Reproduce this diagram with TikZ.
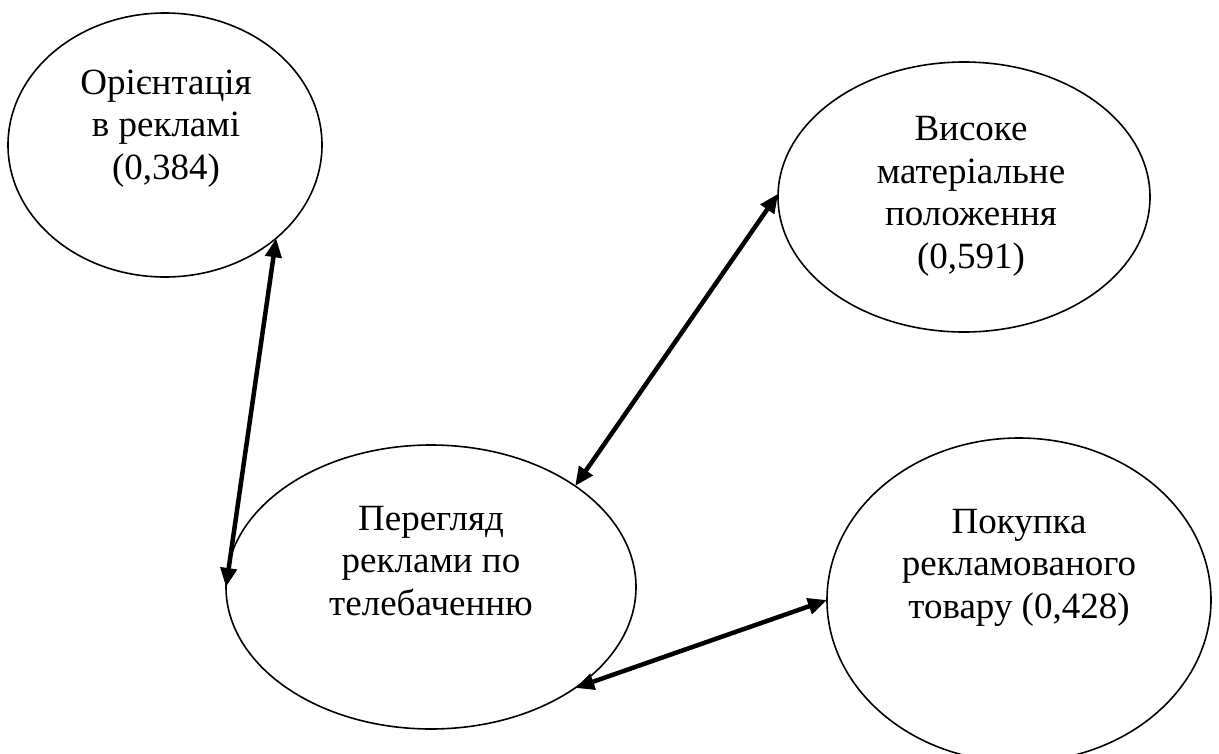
\documentclass[tikz,border=0pt]{standalone}
\usepackage{fontspec}
\setmainfont{Liberation Serif}
\usetikzlibrary{shapes.geometric,arrows.meta}
\begin{document}
\begin{tikzpicture}[x=1pt,y=-1pt,
  oval/.style={draw,ellipse,line width=1.6pt,inner sep=0pt,outer sep=0pt},
  lbl/.style={align=center,inner sep=0pt,anchor=base,font=\fontsize{37pt}{42.5pt}\selectfont},
  link/.style={line width=4.5pt,{Triangle[length=19pt,width=16pt]}-{Triangle[length=19pt,width=16pt]}}]
\useasboundingbox (0,0) rectangle (1219,753);
\node[oval,minimum width=314pt,minimum height=264pt] (e1) at (165,145) {};
\node[oval,minimum width=372pt,minimum height=270pt] (e2) at (964,197) {};
\node[oval,minimum width=410pt,minimum height=284pt] (e3) at (431,587) {};
\node[oval,minimum width=384pt,minimum height=324pt] (e4) at (1019,600) {};
\node[lbl] (t1) at (166,179) {Орієнтація\\в рекламі\\(0,384)};
\node[lbl] (t2) at (971,268) {Високе\\матеріальне\\положення\\(0,591)};
\node[lbl] (t3) at (431,615) {Перегляд\\реклами по\\телебаченню};
\node[lbl] (t4) at (1019,618) {Покупка\\рекламованого\\товару (0,428)};
\draw[link] (e1.-40.6) -- (e3.180);
\draw[link] (e2.179) -- (e3.35.3);
\draw[link] (e4.180) -- (e3.-35);
\end{tikzpicture}
\end{document}
